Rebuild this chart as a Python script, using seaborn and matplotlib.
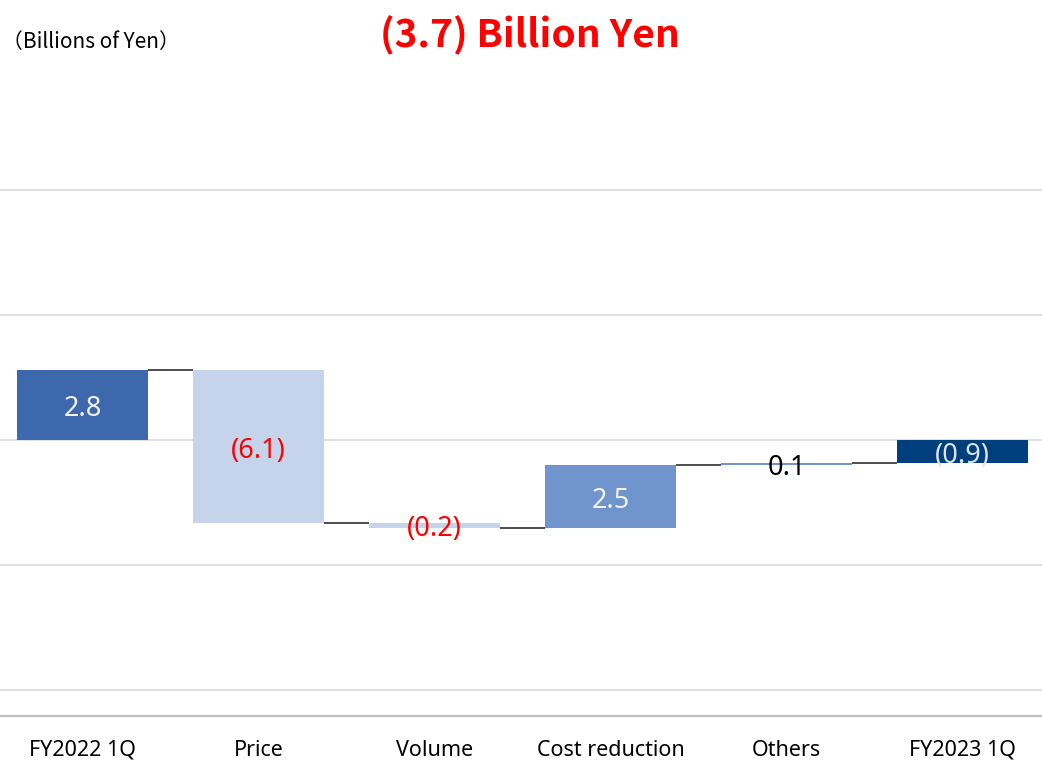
import matplotlib.pyplot as plt
import pandas as pd
import seaborn as sns

# waterfall data (billions of yen)
categories = ["FY2022 1Q", "Price", "Volume", "Cost reduction", "Others", "FY2023 1Q"]
changes = [2.8, -6.1, -0.2, 2.5, 0.1, -0.9]
is_total = [True, False, False, False, False, True]
labels = ["2.8", "(6.1)", "(0.2)", "2.5", "0.1", "(0.9)"]
bar_colors = ["#3E68AE", "#C5D4EA", "#C5D4EA", "#7094CC", "#7094CC", "#003F7E"]
label_colors = ["#F2F2F2", "#FF0000", "#FF0000", "#F2F2F2", "#000000", "#DDE4F0"]

# running start / end of each bar
starts, ends = [], []
level = 0.0
for c, tot in zip(changes, is_total):
    if tot:
        starts.append(0.0)
        ends.append(c)
        level = c
    else:
        starts.append(level)
        level = level + c
        ends.append(level)

df = pd.DataFrame({"cat": categories, "height": [e - s for s, e in zip(starts, ends)],
                   "start": starts})

sns.set_style("white")
plt.rcParams["font.family"] = ["Noto Sans", "DejaVu Sans"]

fig = plt.figure(figsize=(10.42, 7.6), dpi=100)
ax = fig.add_axes([0, 44 / 760, 1, 636 / 760])

w = 0.745
sns.barplot(data=df, x="cat", y="height", bottom=df["start"].values, width=w,
            errorbar=None, color=bar_colors[0], ax=ax, zorder=3)
for p, col in zip(ax.patches, bar_colors):
    p.set_facecolor(col)
    p.set_edgecolor("none")

# connectors between bars
for i in range(len(categories) - 1):
    ax.hlines(ends[i], i + w / 2, i + 1 - w / 2, color="#404040", lw=1.3, zorder=3)

# value labels (nudged slightly below bar centre like the original)
for i, (p, lab, col) in enumerate(zip(ax.patches, labels, label_colors)):
    t = ax.text(i, (starts[i] + ends[i]) / 2 - 0.18, lab, ha="center", va="center",
                color=col, fontsize=19.5, zorder=4)
    if i == len(categories) - 1:
        t.set_clip_path(p)

ax.set_xlim((0 - 82.5) / 176, (1042 - 82.5) / 176)
ax.set_ylim(-11.04, 14.4)
ax.set_yticks([-10, -5, 0, 5, 10])
ax.yaxis.grid(True, color="#D9D9D9", lw=1.2, zorder=0)
ax.set_axisbelow(True)
ax.set_yticklabels([])
ax.tick_params(axis="y", length=0)
ax.tick_params(axis="x", length=0, pad=17, labelsize=15.5, labelcolor="#000000")
ax.set_xlabel("")
ax.set_ylabel("")
for s in ["top", "left", "right"]:
    ax.spines[s].set_visible(False)
ax.spines["bottom"].set_color("#BFBFBF")
ax.spines["bottom"].set_linewidth(1.6)

fig.text(2 / 1042, 1 - 42 / 760, "（Billions of Yen）", fontsize=15, va="center", ha="left",
         family=["Noto Sans CJK JP", "DejaVu Sans"], color="#000000")
fig.text(530 / 1042, 1 - 35 / 760, "(3.7) Billion Yen", fontsize=28, fontweight="bold",
         va="center", ha="center", color="#FF0000",
         family=["Noto Sans CJK JP", "DejaVu Sans"])

fig.savefig("out.png", dpi=100)
